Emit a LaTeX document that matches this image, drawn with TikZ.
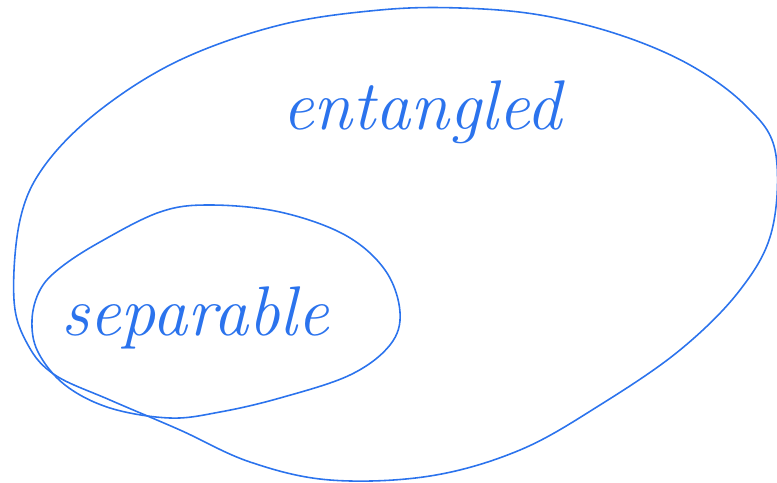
\documentclass[tikz,border=0pt]{standalone}
\usetikzlibrary{positioning}
\definecolor{PenBlue}{rgb}{0.17, 0.45, 0.93}

\begin{document}
\begin{tikzpicture}[x=0.02cm, y=-0.02cm,
    blob/.style={PenBlue, line width=0.9pt, line join=round},
    word/.style={text=PenBlue, font=\fontsize{40}{44}\selectfont\itshape}]

\useasboundingbox (0,0) rectangle (777,483);

% outer set
\draw[blob] plot[smooth cycle, tension=0.6] coordinates {
    (14,300) (20,220) (45,165) (100,110) (180,60) (280,25) (380,10)
    (460,8) (540,15) (620,35) (690,65) (745,105) (775,150) (772,230)
    (740,290) (680,350) (600,405) (520,450) (430,476) (330,480)
    (250,462) (180,430) (110,400) (55,375) (28,345)};

% inner set
\draw[blob] plot[smooth cycle, tension=0.6] coordinates {
    (60,268) (100,242) (160,212) (210,205) (280,212) (345,235)
    (385,270) (400,312) (390,345) (350,375) (280,398) (220,412)
    (170,418) (110,408) (65,385) (38,352) (32,320) (40,290)};

\node[word] (ent) at (422,112) {entangled};
\node[word] (sep) at (195,318) {separable};

\end{tikzpicture}
\end{document}
